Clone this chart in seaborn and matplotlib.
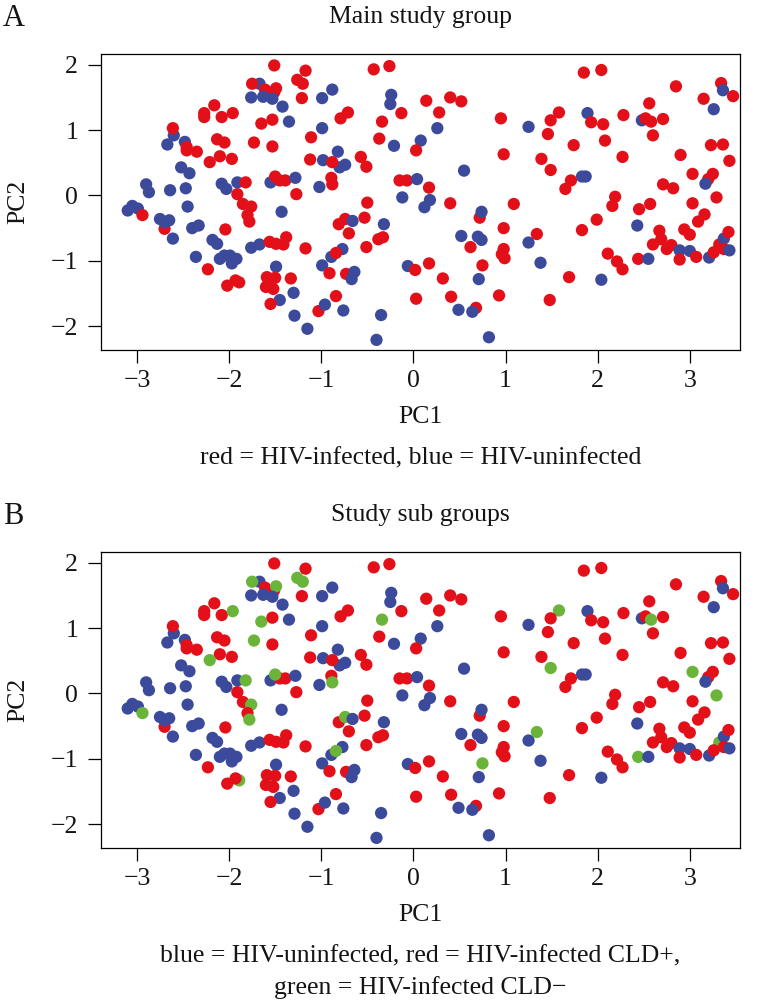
import matplotlib
matplotlib.use("Agg")
import matplotlib.pyplot as plt
import seaborn as sns
import pandas as pd

# ---------------- data ----------------
pc1 = [
    -1.51, -1.17, -1.67, -1.75, -1.61, -1.51, -1.49, -1.76, -1.63, -1.53, -1.26, -1.20, -1.21, -1.42, -2.27,
    -2.27, -2.16, -2.08, -1.96, -1.65, -1.53, -1.35, -2.60, -2.61, -2.67, -2.48, -2.46, -2.46, -2.35, -2.13,
    -2.05, -1.73, -1.53, -2.10, -1.97, -2.21, -1.11, -1.12, -2.52, -2.43, -2.90, -2.87, -2.64, -2.47, -2.08,
    -2.03, -1.91, -1.82, -1.91, -1.55, -1.45, -1.39, -1.50, -1.28, -1.27,
    -0.43, -0.26, -0.88, -0.99, -0.24, -0.25, -0.13, 0.14, 0.40, 0.52, 0.28, 0.95, 1.25, -0.71, -0.79,
    -0.34, -0.99, -0.37, -0.21, 0.08, 0.03, 0.26, 0.98, -0.82, -0.98, -0.74, -0.80, -0.88, -0.57, -0.51,
    -0.89, -0.88, -1.02, -0.15, -0.07, 0.04, 0.17, 0.55, -0.12,
    1.85, 2.04, 2.85, 3.34, 3.36, 3.47, 3.15, 3.26, 1.58, 1.49, 1.46, 1.89, 1.93, 2.06, 2.28,
    2.48, 2.52, 2.58, 2.71, 2.56, 2.60, 1.74, 2.08, 2.27, 3.23, 3.36, 3.43, 2.90, 1.39, 1.49,
    1.83, 1.87, 1.71, 1.65, 3.03, 3.25, 3.20, 3.17, 2.71, 2.82, 2.19, 2.16, 3.29,
    -1.85, -1.76, -1.80, -1.78, -1.43, -3.10, -3.05, -2.99, -2.94, -2.45, -2.70, -2.75, -2.70, -2.65, -2.61,
    -2.40, -2.33, -2.04, -2.18, -2.13, -2.36, -2.10, -2.05, -1.99, -1.97, -1.92, -2.23, -1.89, -2.02, -1.93,
    -1.76, -1.67, -1.56, -1.49, -1.41, -1.38, -1.17, -1.49, -1.57, -1.59, -1.50, -1.60, -1.52, -1.33, -1.30,
    -1.45, -1.55, -1.29, -1.15, -1.03,
    0.18, 0.12, -0.50, 0.40, 1.09, 0.72, 0.74, -0.53, -0.81, -0.74, -0.66, -0.32, -0.70, -0.38, -0.33,
    -0.51, 0.98, 0.52, 0.70, 0.74, 0.62, 0.98, 0.96, 0.99, 1.25, -0.77, -0.89, -0.84, -0.99, -0.91,
    -0.73, -0.64, -0.67, -0.06, 0.02, 0.17, 0.32, 0.75, 0.71, 0.93, -0.84, 0.03, 0.41, -0.96, -0.76,
    -0.35, 0.49, 0.68, 0.64, -0.40, 0.82,
    2.45, 2.57, 3.03, 3.16, 3.09, 1.99, 1.83, 2.43, 1.34, 2.67, 2.69, 2.60, 2.75, 2.80, 2.94,
    3.00, 2.89, 3.00, 2.89, 3.07, 3.32, 3.21, 3.26, 3.37, 3.42, 3.37, 3.43, 2.11, 2.21, 2.27,
    2.44, 2.55, 1.38, 1.69, 2.04, 1.48,
]
pc2 = [
    1.99, 1.91, 1.71, 1.71, 1.62, 1.58, 1.64, 1.50, 1.51, 1.48, 1.77, 1.71, 1.49, 1.36, 1.26,
    1.20, 1.38, 1.20, 1.26, 1.10, 1.16, 1.13, 0.92, 1.03, 0.78, 0.82, 0.74, 0.69, 0.67, 0.86,
    0.81, 0.81, 0.75, 0.60, 0.56, 0.51, 0.89, 0.55, 0.43, 0.34, 0.17, 0.05, 0.08, 0.11, 0.18,
    0.10, 0.20, 0.20, 0.02, 0.20, 0.23, 0.23, 0.29, 0.27, 0.02,
    1.93, 1.98, 1.62, 1.49, 1.54, 1.40, 1.26, 1.45, 1.50, 1.44, 1.27, 1.18, 1.05, 1.27, 1.18,
    1.13, 1.03, 0.87, 0.76, 0.84, 0.69, 1.03, 0.63, 0.67, 0.54, 0.47, 0.43, 0.51, 0.59, 0.44,
    0.27, 0.17, 0.13, 0.23, 0.23, 0.25, 0.12, 0.38, -0.03,
    1.88, 1.92, 1.67, 1.72, 1.61, 1.52, 1.48, 1.32, 1.27, 1.15, 0.94, 1.26, 1.12, 1.09, 1.23,
    1.15, 1.18, 1.13, 1.17, 1.41, 0.92, 0.77, 0.84, 0.59, 0.77, 0.78, 0.53, 0.62, 0.56, 0.39,
    0.29, 0.29, 0.23, 0.10, 0.33, 0.33, 0.25, 0.18, 0.17, 0.11, -0.02, -0.16, -0.03,
    -0.13, -0.17, -0.30, -0.40, -0.25, -0.23, -0.16, -0.20, -0.30, -0.17, -0.51, -0.36, -0.41, -0.38, -0.66,
    -0.50, -0.46, -0.52, -0.68, -0.74, -0.94, -0.97, -0.92, -0.92, -1.04, -0.97, -1.13, -1.33, -1.38, -1.30,
    -0.80, -0.75, -0.71, -0.74, -0.75, -0.64, -0.81, -1.09, -1.30, -1.25, -1.26, -1.40, -1.43, -1.27, -1.49,
    -1.60, -1.66, -1.84, -2.04, -1.77,
    -0.07, -0.18, -0.11, -0.12, -0.13, -0.34, -0.25, -0.34, -0.44, -0.36, -0.39, -0.44, -0.58, -0.67, -0.64,
    -0.79, -0.50, -0.62, -0.63, -0.68, -0.79, -0.82, -0.90, -0.96, -0.72, -0.82, -0.94, -0.88, -1.07, -1.19,
    -1.20, -1.17, -1.28, -1.08, -1.14, -1.04, -1.27, -1.07, -1.28, -1.53, -1.54, -1.58, -1.55, -1.67, -1.76,
    -1.83, -1.75, -1.72, -1.78, -2.21, -2.17,
    -0.21, -0.13, -0.12, -0.29, -0.40, -0.37, -0.53, -0.46, -0.59, -0.54, -0.67, -0.75, -0.82, -0.76, -0.52,
    -0.60, -0.84, -0.85, -0.98, -0.94, -0.75, -0.95, -0.87, -0.66, -0.56, -0.82, -0.84, -0.89, -1.01, -1.13,
    -0.97, -0.97, -1.03, -1.25, -1.29, -1.60,
]
# B = HIV-uninfected, R = HIV-infected CLD+, G = HIV-infected CLD-
group = [
    "R", "R", "B", "G", "R", "R", "G", "B", "B", "B", "G", "G", "R", "B", "R",
    "R", "R", "R", "G", "G", "R", "B", "B", "R", "B", "B", "R", "R", "R", "R",
    "R", "G", "R", "R", "R", "G", "R", "R", "B", "B", "B", "B", "B", "B", "B",
    "B", "B", "G", "R", "B", "R", "R", "G", "B", "R",
    "R", "R", "B", "B", "B", "B", "R", "R", "R", "R", "R", "R", "B", "R", "R",
    "G", "B", "R", "B", "B", "R", "B", "R", "B", "B", "B", "B", "R", "R", "R",
    "R", "G", "B", "R", "R", "B", "R", "B", "B",
    "R", "R", "R", "R", "B", "R", "R", "B", "G", "R", "R", "B", "R", "R", "R",
    "B", "R", "G", "R", "R", "R", "R", "R", "R", "R", "R", "R", "R", "R", "G",
    "B", "B", "R", "R", "G", "R", "R", "B", "R", "R", "R", "R", "G",
    "R", "G", "R", "G", "B", "B", "B", "B", "G", "B", "R", "B", "B", "B", "B",
    "B", "B", "R", "B", "B", "B", "B", "B", "B", "B", "B", "R", "G", "R", "R",
    "B", "B", "R", "R", "R", "R", "R", "B", "G", "R", "R", "R", "R", "R", "B",
    "B", "R", "B", "B", "R",
    "B", "B", "R", "R", "R", "R", "B", "R", "R", "G", "B", "B", "R", "R", "R",
    "R", "R", "B", "B", "B", "R", "R", "R", "R", "B", "B", "B", "G", "B", "R",
    "R", "B", "B", "B", "R", "R", "R", "G", "B", "R", "R", "R", "R", "B", "B",
    "B", "B", "R", "B", "B", "B",
    "R", "R", "R", "R", "R", "R", "R", "B", "G", "R", "R", "R", "R", "R", "R",
    "R", "B", "B", "R", "R", "G", "B", "R", "B", "R", "R", "B", "R", "R", "R",
    "G", "B", "B", "R", "B", "R",
]
assert len(pc1) == len(pc2) == len(group)

panel_letters = ["A", "B"]
titles = ["Main study group", "Study sub groups"]
captions = [["red = HIV-infected, blue = HIV-uninfected"],
            ["blue = HIV-uninfected, red = HIV-infected CLD+,",
             "green = HIV-infected CLD\u2212"]]
x_ticks = [-3, -2, -1, 0, 1, 2, 3]
y_ticks = [-2, -1, 0, 1, 2]

RED, BLUE, GREEN = "#E3101A", "#3C4A9C", "#6AB43A"

df = pd.DataFrame({"PC1": pc1, "PC2": pc2, "code": group})
df["main"] = df["code"].map({"B": "uninfected", "R": "infected", "G": "infected"})
df["sub"] = df["code"].map({"B": "uninfected", "R": "CLD+", "G": "CLD-"})

# ---------------- style ----------------
sns.set_theme(style="ticks")
plt.rcParams["font.family"] = ["Liberation Serif", "DejaVu Serif"]
plt.rcParams["axes.unicode_minus"] = True

W, H = 758, 1002
fig = plt.figure(figsize=(W / 100, H / 100), dpi=100)
fig.patch.set_facecolor("white")

FS = 18.5
TXT = "#141414"
ax_left, ax_right = 101, 740


def make_axes(top_px, bottom_px):
    return fig.add_axes([ax_left / W, 1 - bottom_px / H,
                         (ax_right - ax_left) / W, (bottom_px - top_px) / H])


axA = make_axes(54, 350)
axB = make_axes(552, 848)

sns.scatterplot(data=df, x="PC1", y="PC2", hue="main",
                palette={"infected": RED, "uninfected": BLUE},
                s=78, linewidth=0, alpha=1, legend=False, ax=axA)
sns.scatterplot(data=df, x="PC1", y="PC2", hue="sub",
                palette={"CLD+": RED, "uninfected": BLUE, "CLD-": GREEN},
                s=78, linewidth=0, alpha=1, legend=False, ax=axB)

for i, ax in enumerate([axA, axB]):
    top_px = 54 if i == 0 else 552
    bot_px = 350 if i == 0 else 848
    hpx = bot_px - top_px
    wpx = ax_right - ax_left
    ax.set_xlim(-3.39, 3.545)
    ax.set_ylim(-2.365, 2.165)
    ax.set_xticks(x_ticks)
    ax.set_yticks(y_ticks)
    ax.tick_params(axis="both", direction="out", length=9.4, width=0.9,
                   color="black", labelsize=FS, labelcolor=TXT)
    ax.tick_params(axis="x", pad=5.0)
    ax.tick_params(axis="y", pad=7.0)
    for sp in ax.spines.values():
        sp.set_visible(True)
        sp.set_color("black")
        sp.set_linewidth(0.9)
    ax.set_facecolor("white")
    ax.set_xlabel("PC1", fontsize=FS, color=TXT)
    ax.set_ylabel("PC2", fontsize=FS, color=TXT)
    ax.xaxis.set_label_coords(0.5, -(67) / hpx)
    ax.xaxis.label.set_va("center")
    ax.yaxis.set_label_coords((18 - ax_left) / wpx, 0.5)
    ax.yaxis.label.set_va("center")
    ax.text(0.5, 1 + 37 / hpx, titles[i], transform=ax.transAxes,
            ha="center", va="center", fontsize=FS, color=TXT)
    fig.text(3 / W, 1 - (top_px - 36) / H, panel_letters[i],
             ha="left", va="center", fontsize=22, color=TXT)
    for j, line in enumerate(captions[i]):
        ax.text(0.5, -(108 + 32 * j) / hpx, line, transform=ax.transAxes,
                ha="center", va="center", fontsize=FS, color=TXT)

fig.savefig("out.png", dpi=100, facecolor="white")
